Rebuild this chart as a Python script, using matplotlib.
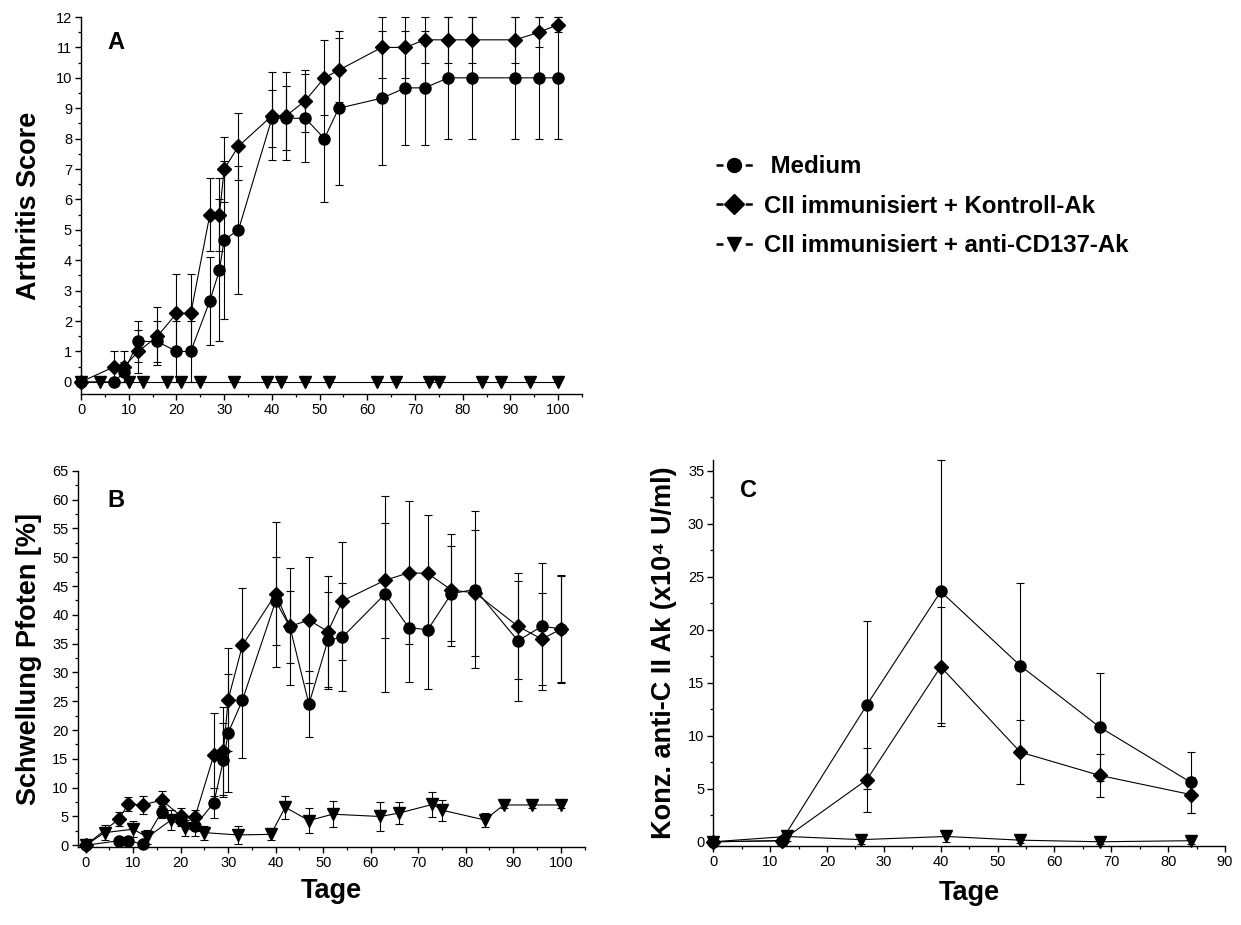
import numpy as np
import matplotlib.pyplot as plt
from matplotlib.ticker import MultipleLocator
from matplotlib.lines import Line2D

plt.rcParams['font.family'] = ['Liberation Sans', 'DejaVu Sans']

# --- A: Arthritis Score ---
tage_a = [0, 7, 9, 12, 16, 20, 23, 27, 29, 30, 33, 40, 43, 47, 51, 54, 63, 68, 72, 77, 82, 91, 96, 100]
a_medium = [0, 0, 0.33, 1.33, 1.33, 1, 1, 2.67, 3.67, 4.67, 5, 8.67, 8.67, 8.67, 8, 9, 9.33, 9.67, 9.67, 10, 10, 10, 10, 10]
a_medium_err = [0, 0, 0.33, 0.67, 0.67, 1, 1, 1.45, 2.33, 2.6, 2.1, 0.94, 1.05, 1.45, 2.1, 2.53, 2.2, 1.87, 1.87, 2, 2, 2, 2, 2]
a_kontroll = [0, 0.5, 0.5, 1, 1.5, 2.25, 2.25, 5.5, 5.5, 7, 7.75, 8.75, 8.75, 9.25, 10, 10.25, 11, 11, 11.25, 11.25, 11.25, 11.25, 11.5, 11.75]
a_kontroll_err = [0, 0.5, 0.5, 0.7, 0.95, 1.3, 1.3, 1.2, 1.2, 1.07, 1.1, 1.45, 1.45, 1.02, 1.23, 1.05, 1, 1, 0.75, 0.75, 0.75, 0.75, 0.5, 0.25]
tage_cd137 = [0, 4, 10, 13, 18, 21, 25, 32, 39, 42, 47, 52, 62, 66, 73, 75, 84, 88, 94, 100]
a_cd137 = [0] * len(tage_cd137)

# --- B: Schwellung Pfoten [%] ---
b_medium = [0, 0.8, 0.8, 0.2, 5.8, 4.4, 3.35, 7.4, 14.8, 19.5, 25.2, 42.4, 37.9, 24.5, 35.6, 36.1, 43.6, 37.8, 37.4, 43.7, 44.4, 35.5, 38.0, 37.6]
b_medium_err = [0, 0.5, 0.5, 0.3, 1.0, 1.0, 1.8, 2.6, 6.5, 10.3, 10, 7.6, 6.3, 5.7, 8.4, 9.4, 17, 9.4, 10.2, 8.3, 13.7, 10.4, 11, 9.4]
b_kontroll = [0, 4.56, 7.2, 7.0, 7.85, 5.1, 4.85, 15.7, 16.4, 25.3, 34.7, 43.6, 38.0, 39.1, 37.1, 42.4, 46.0, 47.3, 47.2, 44.3, 43.8, 38.0, 35.8, 37.5]
b_kontroll_err = [0, 1.2, 1.2, 1.6, 1.5, 1.3, 1.2, 7.2, 7.6, 9, 10, 12.6, 10.2, 11, 9.7, 10.2, 10, 12.4, 10.2, 9.7, 11, 9.2, 8, 9.2]
b_cd137 = [0, 2.2, 2.8, 1.4, 4.4, 2.95, 2.2, 1.8, 1.9, 6.6, 4.3, 5.4, 5.0, 5.6, 7.1, 6.1, 4.4, 7.0, 7.0, 7.0]
b_cd137_err = [0, 1.3, 1.4, 1.2, 1.7, 1.4, 1.2, 1.6, 1.0, 2.0, 2.1, 2.3, 2.5, 1.9, 2.2, 1.8, 1.2, 0.6, 0.6, 0.6]

# --- C: Konz. anti-C II Ak ---
tage_c = [0, 12, 27, 40, 54, 68, 84]
c_medium = [0, 0.1, 12.9, 23.6, 16.6, 10.8, 5.6]
c_medium_err = [0, 0.2, 7.9, 12.4, 7.8, 5.1, 2.9]
c_kontroll = [0, 0.1, 5.85, 16.5, 8.45, 6.25, 4.45]
c_kontroll_err = [0, 0.2, 3.0, 5.6, 3.0, 2.05, 1.7]
tage_c_cd137 = [0, 13, 26, 41, 54, 68, 84]
c_cd137 = [0, 0.5, 0.2, 0.5, 0.15, 0.0, 0.1]
c_cd137_err = [0, 0.4, 0.4, 0.5, 0.3, 0.2, 0.3]

gruppen = [' Medium', 'CII immunisiert + Kontroll-Ak', 'CII immunisiert + anti-CD137-Ak']
marker = ['o', 'D', 'v']
msize = [8, 7.4, 8.2]


def kurve(ax, x, y, err, m, ms):
    ax.errorbar(x, y, yerr=err, color='k', marker=m, ms=ms, lw=0.8,
                elinewidth=0.8, capsize=3.2, capthick=0.8, clip_on=False, zorder=3)


def achsen(ax, xlim, ylim, ymaj, ymin, xmaj=10, xmin=5):
    ax.set_xlim(*xlim)
    ax.set_ylim(*ylim)
    ax.xaxis.set_major_locator(MultipleLocator(xmaj))
    ax.xaxis.set_minor_locator(MultipleLocator(xmin))
    ax.yaxis.set_major_locator(MultipleLocator(ymaj))
    ax.yaxis.set_minor_locator(MultipleLocator(ymin))
    for s in ['top', 'right']:
        ax.spines[s].set_visible(False)
    for s in ['left', 'bottom']:
        ax.spines[s].set_linewidth(1.0)
    ax.tick_params(which='major', direction='out', length=4.5, width=1.0, labelsize=10.5, pad=2)
    ax.tick_params(which='minor', direction='out', length=2.5, width=0.9)


fig = plt.figure(figsize=(12.41, 9.25), dpi=100)

# A
axA = fig.add_axes([0.0653, 0.574, 0.4037, 0.4076])
kurve(axA, tage_a, a_medium, a_medium_err, marker[0], msize[0])
kurve(axA, tage_a, a_kontroll, a_kontroll_err, marker[1], msize[1])
kurve(axA, tage_cd137, a_cd137, None, marker[2], msize[2])
achsen(axA, (0, 105), (-0.4, 12), 1, 0.5)
axA.set_xticks(range(0, 101, 10))
axA.set_ylabel('Arthritis Score', fontsize=19.5, fontweight='bold', labelpad=10)
axA.text(0.052, 0.915, 'A', transform=axA.transAxes, fontsize=17, fontweight='bold')

# B
axB = fig.add_axes([0.0625, 0.0846, 0.4085, 0.4064])
kurve(axB, tage_a, b_medium, b_medium_err, marker[0], msize[0])
kurve(axB, tage_a, b_kontroll, b_kontroll_err, marker[1], msize[1])
kurve(axB, tage_cd137, b_cd137, b_cd137_err, marker[2], msize[2])
achsen(axB, (-1.7, 105), (-0.25, 65), 5, 2.5)
axB.set_xticks(range(0, 101, 10))
axB.set_ylabel('Schwellung Pfoten [%]', fontsize=19.5, fontweight='bold', labelpad=7)
axB.set_xlabel('Tage', fontsize=19.5, fontweight='bold', labelpad=6)
axB.text(0.058, 0.905, 'B', transform=axB.transAxes, fontsize=17, fontweight='bold')

# C
axC = fig.add_axes([0.5748, 0.0854, 0.4123, 0.4173])
kurve(axC, tage_c, c_medium, c_medium_err, marker[0], msize[0])
kurve(axC, tage_c, c_kontroll, c_kontroll_err, marker[1], msize[1])
kurve(axC, tage_c_cd137, c_cd137, c_cd137_err, marker[2], msize[2])
achsen(axC, (0, 90), (-0.4, 36), 5, 2.5)
axC.set_ylabel('Konz. anti-C II Ak (x10\u2074 U/ml)', fontsize=19.5, fontweight='bold', labelpad=8)
axC.set_xlabel('Tage', fontsize=19.5, fontweight='bold', labelpad=8)
axC.text(0.053, 0.905, 'C', transform=axC.transAxes, fontsize=17, fontweight='bold')

# Legende
griffe = [Line2D([], [], color='k', marker=m, ms=10, lw=1.8, ls=(0, (2.8, 8.9)))
          for m in marker]
fig.legend(griffe, gruppen, loc='upper left', bbox_to_anchor=(0.567, 0.845),
           frameon=False, handlelength=1.55, handletextpad=0.45, labelspacing=0.68,
           borderpad=0, prop={'weight': 'bold', 'size': 17.3})

fig.savefig('out.png', dpi=100)
